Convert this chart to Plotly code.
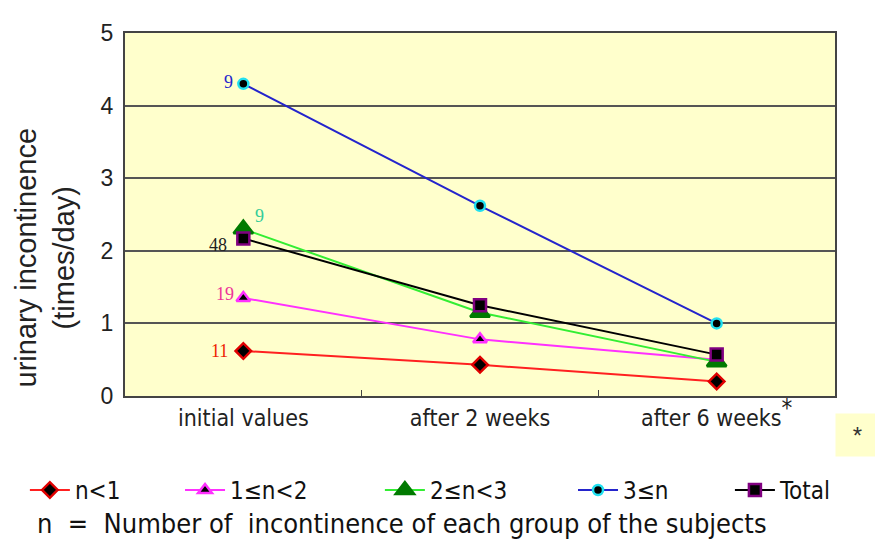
import plotly.graph_objects as go

categories = ["initial values", "after 2 weeks", "after 6 weeks"]
n_lt1 = [0.62, 0.43, 0.20]
n_1to2 = [1.35, 0.78, 0.50]
n_2to3 = [2.30, 1.15, 0.47]
n_ge3 = [4.30, 2.62, 1.00]
total = [2.17, 1.25, 0.57]
group_sizes = {"n<1": 11, "1≤n<2": 19, "2≤n<3": 9, "3≤n": 9, "Total": 48}

narrow = "DejaVu Sans Condensed, Liberation Sans, Arial, sans-serif"

fig = go.Figure()

series = [
    ("n<1", n_lt1, "#ff2020", "diamond", "#000000", "#e00000", 12, "legend"),
    ("1≤n<2", n_1to2, "#ff30ff", "triangle-up", "#000000", "#ff30ff", 12, "legend2"),
    ("2≤n<3", n_2to3, "#33ee33", "triangle-up", "#007a00", "#007a00", 17, "legend3"),
    ("3≤n", n_ge3, "#2424cc", "circle", "#000000", "#22e0f0", 10, "legend4"),
    ("Total", total, "#000000", "square", "#000000", "#800080", 12, "legend5"),
]
for name, vals, lc, sym, mfill, mline, ms, lg in series:
    fig.add_trace(go.Scatter(
        x=categories, y=vals, name=name, mode="lines+markers", legend=lg,
        line=dict(color=lc, width=2),
        marker=dict(symbol=sym, size=ms, color=mfill, line=dict(color=mline, width=2.5)),
    ))

label_specs = [
    ("3≤n", n_ge3[0], "#2424cc", -15, 2),
    ("2≤n<3", n_2to3[0], "#33cc99", 16, 13),
    ("Total", total[0], "#222222", -25, -7),
    ("1≤n<2", n_1to2[0], "#ee3399", -18, 4),
    ("n<1", n_lt1[0], "#ee2200", -24, 0),
]
for key, yv, col, dx, dy in label_specs:
    fig.add_annotation(x=categories[0], y=yv, text=str(group_sizes[key]), showarrow=False,
                       xshift=dx, yshift=dy, font=dict(family="Liberation Serif, Times New Roman, serif",
                                                        size=18, color=col))

legend_x = [-0.141, 0.0775, 0.359, 0.631, 0.852]
legend_common = dict(orientation="h", xanchor="left", y=-0.26, yanchor="middle",
                     font=dict(family=narrow, size=24, color="#111111"),
                     bgcolor="rgba(0,0,0,0)", itemwidth=40)
fig.update_layout(
    width=875, height=539,
    margin=dict(l=117, r=48, t=15, b=151),
    paper_bgcolor="white",
    plot_bgcolor="#ffffcc",
    font=dict(family="Liberation Sans, Arial, sans-serif", color="#222222"),
    showlegend=True,
    legend=dict(x=legend_x[0], **legend_common),
    legend2=dict(x=legend_x[1], **legend_common),
    legend3=dict(x=legend_x[2], **legend_common),
    legend4=dict(x=legend_x[3], **legend_common),
    legend5=dict(x=legend_x[4], **legend_common),
)
fig.update_xaxes(
    type="category", range=[-0.5, 2.5],
    tickvals=categories,
    ticktext=["initial values", "after 2 weeks",
              "after 6 weeks<sup><span style='font-size:24px'>*</span></sup>"],
    tickfont=dict(size=23, color="#222222", family=narrow),
    showline=True, linecolor="#444444", linewidth=2, mirror=True,
    ticks="inside", tickson="boundaries", ticklen=6, tickcolor="#444444",
    showgrid=False,
)
fig.update_yaxes(
    range=[0, 5], dtick=1,
    tickfont=dict(size=23, color="#222222"),
    ticklabelstandoff=5,
    showline=True, linecolor="#444444", linewidth=2, mirror=True,
    showgrid=True, gridcolor="#555555", gridwidth=2,
    ticks="", zeroline=False,
)

fig.add_annotation(xref="paper", yref="paper", x=-0.113, y=0.381, xanchor="center", yanchor="middle",
                   text="urinary incontinence<br>(times/day)", textangle=-90, showarrow=False,
                   font=dict(size=29, color="#222222"))
fig.add_annotation(xref="paper", yref="paper", x=1.0, y=-0.0456, xanchor="left", yanchor="top",
                   text="*", showarrow=False, bgcolor="#ffffcc", width=41, height=40,
                   font=dict(size=24, color="#333333"))
fig.add_annotation(xref="paper", yref="paper", x=-0.127, y=-0.351, xanchor="left", yanchor="middle",
                   text="n\u00a0\u00a0=\u00a0\u00a0Number of\u00a0\u00a0incontinence of each group of the subjects",
                   showarrow=False,
                   font=dict(family=narrow, size=27, color="#111111"))

fig.write_html("out.html")
